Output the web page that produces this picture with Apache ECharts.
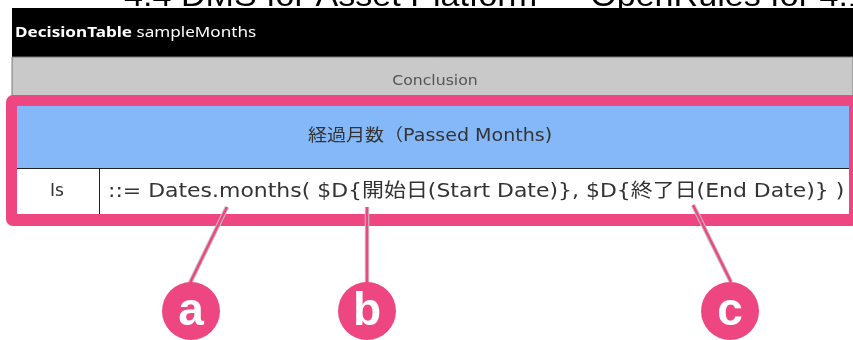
<!DOCTYPE html>
<html>
<head>
<meta charset="utf-8">
<script src="https://cdn.jsdelivr.net/npm/echarts@6/dist/echarts.min.js"></script>
<style>html,body{margin:0;padding:0;background:#fff}#c{width:853px;height:340px}</style>
</head>
<body>
<div id="c"></div>
<script>
// ---- content ----
var pageTitle = '4.4 DMS for Asset Platform — OpenRules for 4.1';
var tableKeyword = 'DecisionTable';
var tableName = 'sampleMonths';
var sectionLabel = 'Conclusion';
var columnHeader = '経過月数（Passed Months)';
var operatorLabel = 'Is';
var formulaText = '::= Dates.months( $D{開始日(Start Date)}, $D{終了日(End Date)} )';
var markerLabels = ['a', 'b', 'c'];

// ---- layout / style ----
var PINK = '#ED4681';
var markerPos = [
  {from: [227, 207], to: [190, 283], c: [191, 311]},
  {from: [367, 207], to: [367, 283], c: [367, 311]},
  {from: [693, 205], to: [731, 282], c: [730, 311]}
];
var FONT = '"DejaVu Sans", "Noto Sans CJK JP", sans-serif';

var chart = echarts.init(document.getElementById('c'), null, {renderer: 'canvas'});
var els = [];
function txt(x, y, sx, z, style) {
  style.x = 0; style.y = 0;
  return {type: 'text', x: x, y: y, scaleX: sx, z: z, style: style};
}
// cut-off page title (only bottom shows)
els.push(txt(124, -3, 1.1, 1, {text: pageTitle, font: '31px "Liberation Sans", sans-serif', fill: '#000', textVerticalAlign: 'middle'}));
// black header
els.push({type: 'rect', z: 2, shape: {x: 12, y: 8, width: 841, height: 49}, style: {fill: '#000'}});
els.push(txt(15, 33, 1.14, 3, {
  text: '{b|' + tableKeyword + '}{n| ' + tableName + '}', verticalAlign: 'middle', textVerticalAlign: 'middle',
  rich: {b: {fontFamily: '"Noto Sans", sans-serif', fontWeight: 'bold', fontSize: 15, fill: '#fff'},
         n: {fontFamily: '"Noto Sans", sans-serif', fontSize: 15, fill: '#fff'}}
}));
// gray conclusion band
els.push({type: 'rect', z: 2, shape: {x: 12, y: 57, width: 841, height: 40}, style: {fill: '#C9C9C9', stroke: '#7a7a7a', lineWidth: 1}});
els.push(txt(435, 81, 1.12, 3, {text: sectionLabel, textAlign: 'center', textVerticalAlign: 'middle', font: '14px ' + FONT, fill: '#555'}));
// pink frame
els.push({type: 'rect', z: 4, shape: {x: 6, y: 95, width: 852, height: 131, r: 7}, style: {fill: PINK}});
// blue header
els.push({type: 'rect', z: 5, shape: {x: 17, y: 106, width: 832, height: 62}, style: {fill: '#85B8F8'}});
els.push(txt(430, 137, 1.12, 6, {text: columnHeader, textAlign: 'center', textVerticalAlign: 'middle', font: '17px ' + FONT, fill: '#333'}));
// white row
els.push({type: 'rect', z: 5, shape: {x: 17, y: 168, width: 832, height: 46}, style: {fill: '#fff'}});
els.push({type: 'line', z: 6, shape: {x1: 17, y1: 168.5, x2: 849, y2: 168.5}, style: {stroke: '#222', lineWidth: 1}});
els.push({type: 'line', z: 6, shape: {x1: 99.5, y1: 169, x2: 99.5, y2: 214}, style: {stroke: '#222', lineWidth: 1}});
els.push(txt(57, 192, 1, 6, {text: operatorLabel, textAlign: 'center', textVerticalAlign: 'middle', font: '17px ' + FONT, fill: '#333'}));
els.push(txt(108, 192, 1.155, 6, {text: formulaText, textAlign: 'left', textVerticalAlign: 'middle', font: '19px ' + FONT, fill: '#333'}));
// markers
markerLabels.forEach(function (lab, i) {
  var m = markerPos[i];
  els.push({type: 'line', z: 7, shape: {x1: m.from[0], y1: m.from[1], x2: m.to[0], y2: m.to[1]}, style: {stroke: '#c4c4c4', lineWidth: 4.5}});
  els.push({type: 'line', z: 8, shape: {x1: m.from[0], y1: m.from[1], x2: m.to[0], y2: m.to[1]}, style: {stroke: PINK, lineWidth: 2.5}});
  els.push({type: 'circle', z: 9, shape: {cx: m.c[0], cy: m.c[1], r: 29}, style: {fill: PINK}});
  els.push({type: 'text', z: 10, style: {text: lab, x: m.c[0], y: m.c[1] + 1, textAlign: 'center', textVerticalAlign: 'middle', font: 'bold 46px "Liberation Sans", sans-serif', fill: '#fff'}});
});

chart.setOption({animation: false, backgroundColor: '#fff', graphic: {elements: els}});
</script>
</body>
</html>
